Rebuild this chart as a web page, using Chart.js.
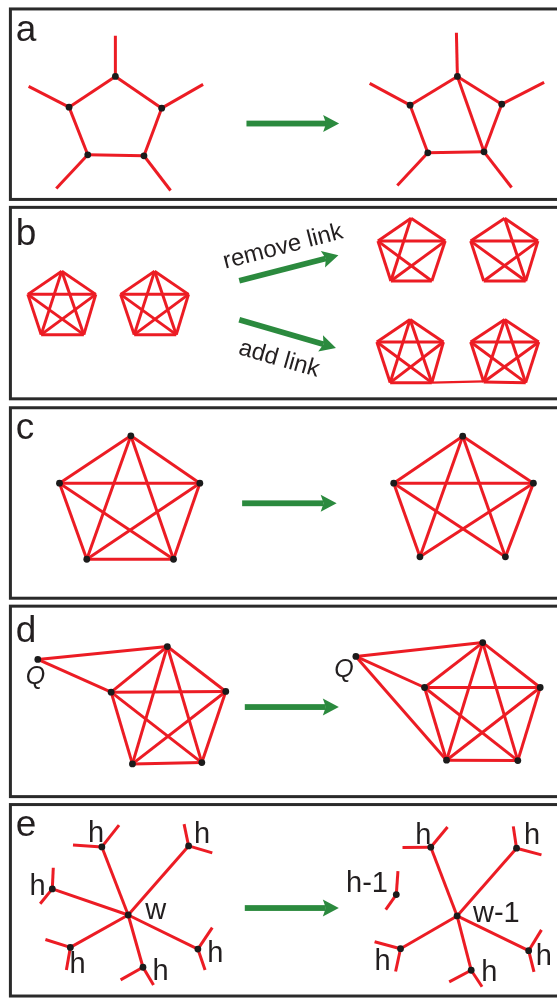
<!DOCTYPE html>
<html>
<head>
<meta charset="utf-8">
<title>Network moves a-e</title>
<script src="https://cdn.jsdelivr.net/npm/chart.js@4.4.1/dist/chart.umd.min.js"></script>
<style>
  html, body { margin: 0; padding: 0; background: #fff; }
  #diagram { display: block; }
</style>
</head>
<body>
<canvas id="diagram" width="557" height="1003"></canvas>
<script>
// node order for pentagons: top, left, right, bottom-left, bottom-right
const K5 = [[0, 1], [0, 2], [1, 3], [2, 4], [3, 4], [1, 2], [0, 3], [0, 4], [1, 4], [2, 3]];
const ring = [[0, 1], [0, 2], [1, 3], [2, 4], [3, 4]];

// panel frames
const panelLetters = ["a", "b", "c", "d", "e"];
const panelTops = [5, 205, 407, 607, 807];
const panelBottoms = [197, 398, 599, 799, 1000];
const letterBaselines = [37, 243, 438, 643, 839];

// a
const aLeftNodes = [[113, 73], [66, 104], [160, 105], [85, 152], [142, 153]];
const aLeftStubs = [[0, 113, 32], [1, 25, 83], [2, 202, 81], [3, 53, 186], [4, 169, 188]];
const aRightNodes = [[460, 73], [412, 102], [505, 101], [430, 150], [487, 149]];
const aRightStubs = [[0, 459, 29], [1, 371, 80], [2, 548, 79], [3, 399, 183], [4, 515, 185]];
const aRightEdges = ring.concat([[0, 4]]);

// b
const bStart1 = [[58.6, 269.3], [24.2, 292.7], [93.1, 292.7], [37.7, 333.3], [81, 333.3]];
const bStart2 = [[152.8, 269.3], [118.3, 292.7], [187.2, 292.7], [132.1, 333.3], [174.8, 333.3]];
const bRemove1 = [[413, 216], [379.4, 239], [447.6, 239], [392.5, 279.3], [434.1, 279.3]];
const bRemove2 = [[508, 216], [473.5, 239], [541.7, 239], [486.7, 279.3], [529.3, 279.3]];
const bAdd1 = [[412, 318], [378.3, 340.7], [445.8, 340.7], [391.8, 381.7], [434.1, 381.7]];
const bAdd2 = [[508, 318], [473.5, 340.7], [542.5, 340.7], [486.7, 381], [529.3, 381.7]];
const bRemove1Edges = K5.filter(([i, j]) => !(i === 0 && j === 4));
const bRemove2Edges = K5.filter(([i, j]) => !(i === 0 && j === 3));
const bLink = [[434.1, 381.7], [486.7, 380.5]];
const bCaptions = [["remove link", 283, 245, -14.5], ["add link", 279, 358, 16]];

// c
const cLeftNodes = [[128.7, 435.3], [56.3, 483], [198.7, 483], [84, 559.7], [172, 559.7]];
const cRightNodes = [[465.4, 435.7], [395.4, 483], [537.1, 483], [422, 557.3], [508.7, 557.3]];
const cRightEdges = K5.filter(([i, j]) => !(i === 3 && j === 4));

// d (index 5 is Q)
const dLeftNodes = [[165.7, 647.7], [108.7, 693.7], [225, 693], [130.3, 766], [200.7, 764.7], [34.3, 660.7]];
const dLeftEdges = K5.concat([[5, 0], [5, 1]]);
const dRightNodes = [[485.7, 643.7], [426.7, 689], [544, 689], [449, 762.3], [521.3, 762.7], [357, 657.7]];
const dRightEdges = K5.concat([[5, 0], [5, 1], [5, 3]]);
const dLabels = [["Q", 32, 685], ["Q", 345, 678]];

// e (index 0 is the hub)
const eLeftNodes = [[126, 918.3], [99.3, 849.7], [187.3, 848.7], [49, 892], [67.3, 951], [141, 971], [196.7, 952.7]];
const eLeftEdges = [[0, 1], [0, 2], [0, 3], [0, 4], [0, 5], [0, 6]];
const eLeftStubs = [
  [1, 70, 847.7], [1, 116.7, 827.7], [2, 182.7, 826.7], [2, 211.3, 855.7],
  [3, 50, 870.7], [3, 36.7, 907], [4, 42, 943], [4, 63.3, 973.7],
  [5, 118.3, 983.7], [5, 151.7, 989], [6, 211.3, 931], [6, 204, 973.7]
];
const eRightNodes = [[459.7, 919.3], [433, 850], [520, 851], [402.3, 952.3], [474, 974], [532.3, 954.3], [398, 897.7]];
const eRightEdges = [[0, 1], [0, 2], [0, 3], [0, 4], [0, 5]];
const eRightStubs = [
  [1, 404.3, 850.3], [1, 450, 829.7], [2, 516.7, 829], [2, 545.3, 857.7],
  [3, 376, 945.3], [3, 397.3, 975.3], [4, 451.7, 985.7], [4, 485, 990.7],
  [5, 545.3, 933.3], [5, 537.7, 975.7], [6, 399.7, 874], [6, 387.3, 913]
];
const eLabels = [
  ["h", 93.3, 845], ["h", 201, 845.7], ["h", 34, 898.3], ["h", 74.7, 976.7],
  ["h", 158.8, 984], ["h", 214.5, 966], ["w", 154, 922.7],
  ["h", 425.3, 846.7], ["h", 535.7, 846.7], ["h-1", 368.3, 895], ["w-1", 499.5, 925],
  ["h", 384.2, 974], ["h", 492.3, 985], ["h", 547.8, 968.3]
];

// arrows: from x,y to tip x,y
const arrows = [
  [246, 120.5, 340, 120.5],
  [238.7, 279, 339.3, 253.3],
  [238.7, 318.3, 336.8, 346.7],
  [241.6, 503.3, 337.5, 503.3],
  [244.3, 708.7, 339.7, 708.7],
  [244.3, 911.3, 339.7, 911.3]
];

const RED = "#ec1c24";
const GREEN = "#2b8a3e";
const INK = "#231f20";

const datasets = [];

function addSegment(p, q, width) {
  datasets.push({
    data: [{ x: p[0], y: p[1] }, { x: q[0], y: q[1] }],
    showLine: true,
    borderColor: RED,
    borderWidth: width || 3,
    pointRadius: 0,
    order: 1
  });
}

function addGraph(nodes, edges, stubs, withDots) {
  edges.forEach(([i, j]) => addSegment(nodes[i], nodes[j]));
  (stubs || []).forEach(([i, x, y]) => addSegment(nodes[i], [x, y]));
  if (withDots) {
    datasets.push({
      data: nodes.map(([x, y]) => ({ x, y })),
      showLine: false,
      pointRadius: 3.4,
      pointBackgroundColor: "#1b1b1b",
      pointBorderWidth: 0,
      order: 0
    });
  }
}

addGraph(aLeftNodes, ring, aLeftStubs, true);
addGraph(aRightNodes, aRightEdges, aRightStubs, true);
addGraph(bStart1, K5, null, false);
addGraph(bStart2, K5, null, false);
addGraph(bRemove1, bRemove1Edges, null, false);
addGraph(bRemove2, bRemove2Edges, null, false);
addGraph(bAdd1, K5, null, false);
addGraph(bAdd2, K5, null, false);
addSegment(bLink[0], bLink[1], 2.2);
addGraph(cLeftNodes, K5, null, true);
addGraph(cRightNodes, cRightEdges, null, true);
addGraph(dLeftNodes, dLeftEdges, null, true);
addGraph(dRightNodes, dRightEdges, null, true);
addGraph(eLeftNodes, eLeftEdges, eLeftStubs, true);
addGraph(eRightNodes, eRightEdges, eRightStubs, true);

// frames behind everything
const framePlugin = {
  id: "frames",
  beforeDatasetsDraw(chart) {
    const { ctx, scales: { x, y } } = chart;
    ctx.save();
    ctx.strokeStyle = "#2a2a2a";
    ctx.lineWidth = 3;
    panelTops.forEach((top, i) => {
      const x0 = x.getPixelForValue(6.5);
      const x1 = x.getPixelForValue(575);
      const y0 = y.getPixelForValue(top);
      const y1 = y.getPixelForValue(panelBottoms[i]);
      ctx.strokeRect(x0, y0, x1 - x0, y1 - y0);
    });
    ctx.restore();
  }
};

// arrows, letters and labels on top
const annotationPlugin = {
  id: "annotations",
  afterDatasetsDraw(chart) {
    const { ctx, scales: { x, y } } = chart;
    ctx.save();

    arrows.forEach(([x1, y1, x2, y2]) => {
      const px1 = x.getPixelForValue(x1), py1 = y.getPixelForValue(y1);
      const px2 = x.getPixelForValue(x2), py2 = y.getPixelForValue(y2);
      const angle = Math.atan2(py2 - py1, px2 - px1);
      const len = Math.hypot(px2 - px1, py2 - py1);
      ctx.save();
      ctx.translate(px1, py1);
      ctx.rotate(angle);
      ctx.fillStyle = GREEN;
      ctx.fillRect(0, -2.9, len - 13, 5.8);
      ctx.beginPath();
      ctx.moveTo(len, 0);
      ctx.lineTo(len - 16, -8.5);
      ctx.lineTo(len - 13, 0);
      ctx.lineTo(len - 16, 8.5);
      ctx.closePath();
      ctx.fill();
      ctx.restore();
    });

    ctx.fillStyle = INK;
    ctx.textAlign = "left";
    ctx.textBaseline = "alphabetic";
    ctx.font = "37px 'Liberation Sans', Arial, sans-serif";
    panelLetters.forEach((letter, i) => {
      ctx.fillText(letter, x.getPixelForValue(12), y.getPixelForValue(letterBaselines[i]));
    });

    ctx.font = "24px 'Liberation Sans', Arial, sans-serif";
    ctx.textAlign = "center";
    ctx.textBaseline = "middle";
    bCaptions.forEach(([text, cx, cy, deg]) => {
      ctx.save();
      ctx.translate(x.getPixelForValue(cx), y.getPixelForValue(cy));
      ctx.rotate(deg * Math.PI / 180);
      ctx.fillText(text, 0, 0);
      ctx.restore();
    });

    ctx.textBaseline = "alphabetic";
    ctx.font = "italic 25px 'Liberation Sans', Arial, sans-serif";
    dLabels.forEach(([text, lx, ly]) => {
      ctx.fillText(text, x.getPixelForValue(lx), y.getPixelForValue(ly));
    });

    ctx.font = "29px 'Liberation Sans', Arial, sans-serif";
    eLabels.forEach(([text, lx, ly]) => {
      ctx.fillText(text, x.getPixelForValue(lx), y.getPixelForValue(ly));
    });

    ctx.restore();
  }
};

new Chart(document.getElementById("diagram"), {
  type: "scatter",
  data: { datasets },
  options: {
    responsive: false,
    animation: false,
    events: [],
    layout: { padding: 0 },
    plugins: { legend: { display: false }, tooltip: { enabled: false } },
    scales: {
      x: { type: "linear", min: 0, max: 557, display: false },
      y: { type: "linear", min: 0, max: 1003, reverse: true, display: false }
    }
  },
  plugins: [framePlugin, annotationPlugin]
});
</script>
</body>
</html>
